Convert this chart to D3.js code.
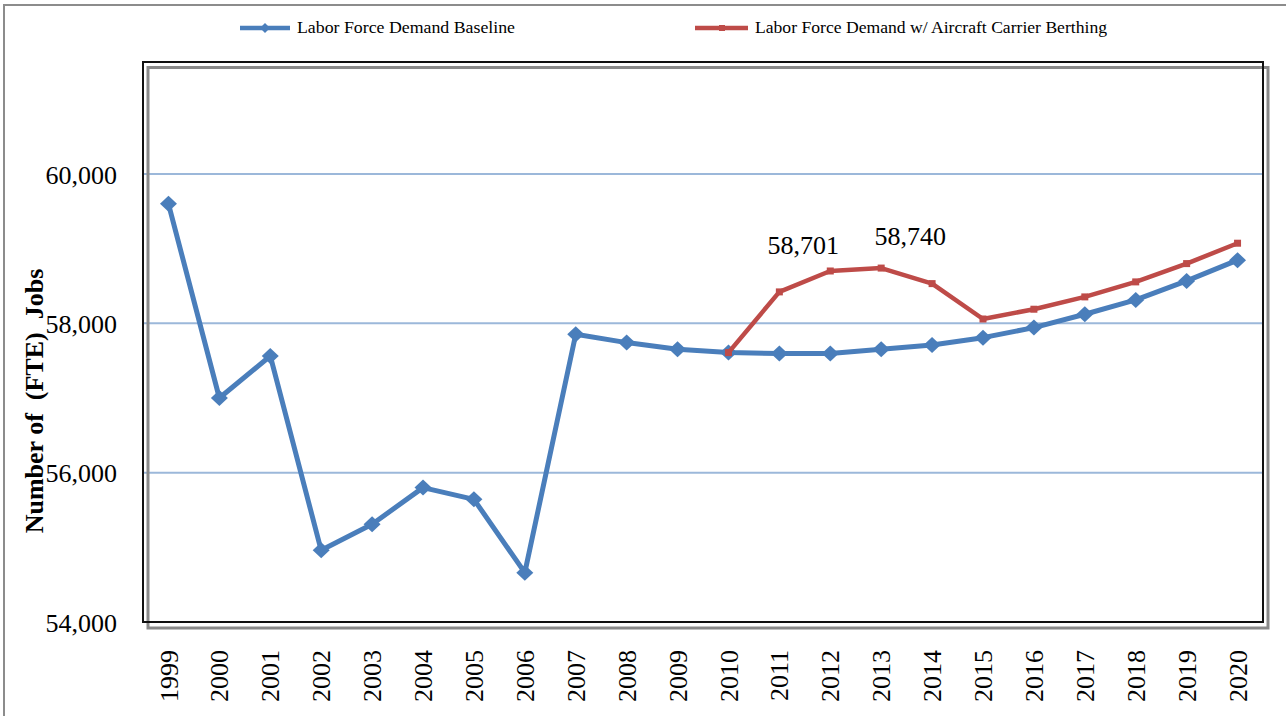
<!DOCTYPE html>
<html>
<head>
<meta charset="utf-8">
<script src="https://cdn.jsdelivr.net/npm/d3@7"></script>
<style>
  html, body { margin: 0; padding: 0; background: #fff; }
  svg { display: block; }
  text { font-family: "Liberation Serif", "Times New Roman", serif; fill: #000; }
</style>
</head>
<body>
<svg id="chart" width="1286" height="716"></svg>
<script>
const years = ["1999","2000","2001","2002","2003","2004","2005","2006","2007","2008","2009","2010",
               "2011","2012","2013","2014","2015","2016","2017","2018","2019","2020"];
const baseline = [59600, 57000, 57563, 54960, 55309, 55800, 55643, 54661, 57854, 57742, 57653, 57608,
                  57595, 57597, 57653, 57710, 57808, 57943, 58122, 58314, 58568, 58846];
const carrierYears = ["2010","2011","2012","2013","2014","2015","2016","2017","2018","2019","2020"];
const carrier = [57608, 58421, 58701, 58740, 58532, 58058, 58189, 58354, 58555, 58800, 59073];
const yTicks = [54000, 56000, 58000, 60000];
const annotations = [{year: "2012", value: 58701}, {year: "2013", value: 58740}];
const seriesNames = ["Labor Force Demand Baseline", "Labor Force Demand w/ Aircraft Carrier Berthing"];

const svg = d3.select("#chart");
const blue = "#4A7EBB", red = "#BE4B48";

// outer figure border
svg.append("rect").attr("x", 4).attr("y", 5).attr("width", 1300).attr("height", 720)
  .attr("fill", "none").attr("stroke", "#8c8c8c").attr("stroke-width", 2);

const L = 143, R = 1263, T = 62, B = 622;
const x = d3.scaleBand().domain(years).range([L, R]).padding(0);
const y = d3.scaleLinear().domain([54000, 61500]).range([B, T]);
const cx = d => x(d) + x.bandwidth() / 2;

// gridlines
svg.append("g").selectAll("line").data(yTicks.filter(v => v > 54000)).join("line")
  .attr("x1", L).attr("x2", R).attr("y1", d => y(d)).attr("y2", d => y(d))
  .attr("stroke", "#9CB8DA").attr("stroke-width", 2);

// plot frame (shadow + black)
svg.append("rect").attr("x", 148).attr("y", 67.5).attr("width", R - L).attr("height", B - T + 0.5)
  .attr("fill", "none").attr("stroke", "#8a8a8a").attr("stroke-width", 3);
svg.append("rect").attr("x", L).attr("y", T).attr("width", R - L).attr("height", B - T)
  .attr("fill", "none").attr("stroke", "#111").attr("stroke-width", 2);

// y axis labels
const yAxis = d3.axisLeft(y).tickValues(yTicks).tickSize(0).tickPadding(0)
  .tickFormat(d3.format(","));
const gy = svg.append("g").attr("transform", `translate(117,0)`).call(yAxis);
gy.select(".domain").remove();
gy.selectAll("text").attr("font-size", 26).attr("font-family", "Liberation Serif, serif")
  .attr("fill", "#000").attr("dy", "0.35em");

// x axis labels
const xAxis = d3.axisBottom(x).tickSize(0).tickPadding(0);
const gx = svg.append("g").attr("transform", `translate(0,650)`).call(xAxis);
gx.select(".domain").remove();
gx.selectAll("text").attr("font-size", 26).attr("font-family", "Liberation Serif, serif")
  .attr("fill", "#000")
  .attr("transform", "rotate(-90)").attr("text-anchor", "end")
  .attr("x", 0).attr("y", 0).attr("dy", "0.35em");

// y title
svg.append("text").attr("transform", "translate(43,401) rotate(-90)")
  .attr("text-anchor", "middle").attr("font-size", 26).attr("font-weight", "bold")
  .attr("xml:space", "preserve").style("white-space", "pre")
  .text("Number of  (FTE)  Jobs");

// lines
const line = d3.line().x(d => cx(d[0])).y(d => y(d[1]));
const bData = years.map((yr, i) => [yr, baseline[i]]);
const rData = carrierYears.map((yr, i) => [yr, carrier[i]]);

svg.append("path").datum(bData).attr("d", line).attr("fill", "none")
  .attr("stroke", blue).attr("stroke-width", 5).attr("stroke-linejoin", "round");
const diamond = "M0,-8L8.5,0L0,8L-8.5,0Z";
svg.append("g").selectAll("path").data(bData).join("path")
  .attr("d", diamond).attr("transform", d => `translate(${cx(d[0])},${y(d[1])})`)
  .attr("fill", blue);

svg.append("path").datum(rData).attr("d", line).attr("fill", "none")
  .attr("stroke", red).attr("stroke-width", 4.5).attr("stroke-linejoin", "round");
svg.append("g").selectAll("rect").data(rData).join("rect")
  .attr("x", d => cx(d[0]) - 3.5).attr("y", d => y(d[1]) - 3.5)
  .attr("width", 7).attr("height", 7).attr("fill", red);

// annotations
const annOffsets = [[-27, -17], [29, -23]];
svg.append("g").selectAll("text").data(annotations).join("text")
  .attr("x", (d, i) => cx(d.year) + annOffsets[i][0])
  .attr("y", (d, i) => y(d.value) + annOffsets[i][1])
  .attr("text-anchor", "middle").attr("font-size", 26)
  .text(d => d3.format(",")(d.value));

// legend
const lg = svg.append("g");
lg.append("line").attr("x1", 240).attr("x2", 290).attr("y1", 28).attr("y2", 28)
  .attr("stroke", blue).attr("stroke-width", 4.5);
lg.append("path").attr("d", "M0,-5L5,0L0,5L-5,0Z").attr("transform", "translate(265,28)").attr("fill", blue);
lg.append("text").attr("x", 297).attr("y", 33).attr("font-size", 16)
  .attr("textLength", 218).attr("lengthAdjust", "spacingAndGlyphs").text(seriesNames[0]);
lg.append("line").attr("x1", 695).attr("x2", 748).attr("y1", 28).attr("y2", 28)
  .attr("stroke", red).attr("stroke-width", 4.5);
lg.append("rect").attr("x", 719).attr("y", 25).attr("width", 6).attr("height", 6).attr("fill", red);
lg.append("text").attr("x", 755).attr("y", 33).attr("font-size", 16)
  .attr("textLength", 352).attr("lengthAdjust", "spacingAndGlyphs").text(seriesNames[1]);
</script>
</body>
</html>
